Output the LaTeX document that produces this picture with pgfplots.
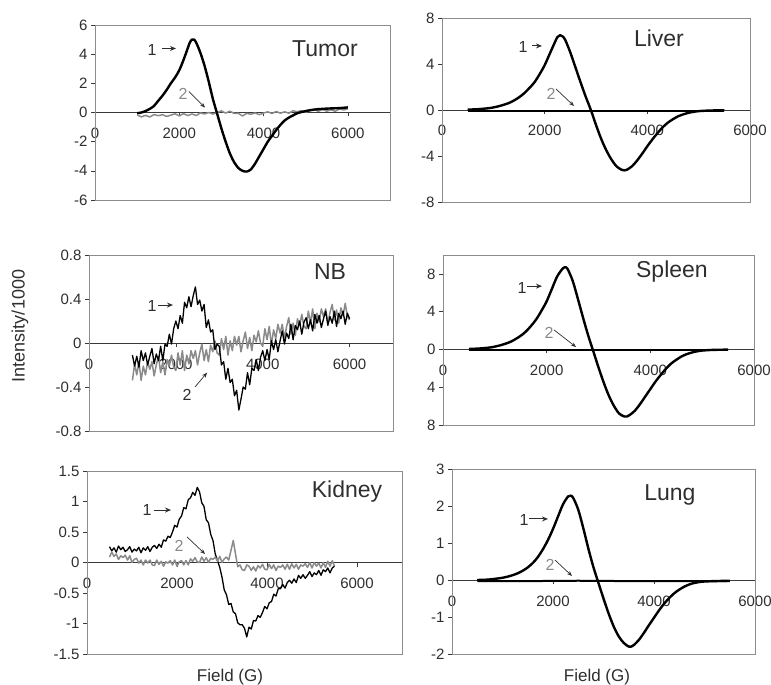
\documentclass[border=0pt]{standalone}
\usepackage{fontspec}
\setmainfont{Liberation Sans}
\usepackage{pgfplots}
\pgfplotsset{compat=1.18}
\usetikzlibrary{arrows.meta}

\definecolor{framegray}{HTML}{8C8C8C}
\definecolor{axisgray}{HTML}{3A3A3A}
\definecolor{tracetwo}{HTML}{8A8A8A}
\definecolor{txt}{HTML}{2E2E2E}

\newcommand{\tickfont}{\fontsize{15}{17}\selectfont}
\newcommand{\titlefont}{\fontsize{23}{26}\selectfont}
\newcommand{\numfont}{\fontsize{16}{18}\selectfont}

\pgfplotsset{
  panel/.style={
    scale only axis,
    anchor=south west,
    clip mode=individual,
    axis x line*=middle,
    axis y line*=left,
    hide obscured x ticks=false,
    hide obscured y ticks=false,
    xmin=0,
    xtick={0,2000,4000,6000},
    xticklabels={0,2000,4000,6000},
    tick align=outside,
    major tick length=4pt,
    tick style={axisgray, line width=0.6pt},
    x axis line style={axisgray, line width=0.9pt},
    y axis line style={axisgray, line width=0.9pt},
    xticklabel style={font=\tickfont, text=txt, yshift=-8pt},
    yticklabel style={font=\tickfont, text=txt},
  },
  one/.style={black, line width=2.4pt, line join=round},
  onenoisy/.style={black, line width=1.3pt, line join=round},
  two/.style={tracetwo, line width=1.5pt, line join=round},
}

\begin{document}
\begin{tikzpicture}
\path[use as bounding box] (0,0) rectangle (771pt,685pt);

% ---------- Tumor ----------
\begin{axis}[panel, at={(95pt,485pt)}, width=295pt, height=175pt,
  xmax=7000, ymin=-6, ymax=6,
  ytick={-6,-4,-2,0,2,4,6}, yticklabels={-6,-4,-2,0,2,4,6}]
\draw[framegray, line width=0.7pt] (rel axis cs:0,0) rectangle (rel axis cs:1,1);
\addplot[two] coordinates {
(1000,-0.17)(1100,-0.30)(1200,-0.20)(1300,-0.31)(1400,-0.14)(1500,-0.22)(1600,-0.15)(1700,-0.27)(1800,-0.18)(1900,-0.09)
(2000,-0.23)(2100,-0.08)(2200,-0.21)(2300,-0.10)(2400,-0.21)(2500,-0.03)(2600,-0.10)(2700,0.00)(2800,-0.11)(2900,0.01)
(3000,0.11)(3100,-0.04)(3200,0.09)(3300,-0.06)(3400,-0.05)(3500,-0.24)(3600,-0.06)(3700,-0.12)(3800,-0.03)(3900,-0.15)
(4000,-0.04)(4100,0.05)(4200,-0.07)(4300,0.07)(4400,-0.05)(4500,0.05)(4600,-0.05)(4700,0.12)(4800,0.05)(4900,0.13)
(5000,0.02)(5100,0.12)(5200,0.21)(5300,0.08)(5400,0.22)(5500,0.09)(5600,0.19)(5700,0.08)(5800,0.25)(5900,0.17)(6000,0.25)};
\addplot[one, smooth] coordinates {
(1000,-0.05)(1100,0.0)(1200,0.1)(1300,0.25)(1400,0.45)(1500,0.8)(1600,1.15)(1700,1.55)(1800,2.0)(1900,2.4)
(2000,2.9)(2100,3.6)(2200,4.4)(2250,4.8)(2300,5.0)(2350,5.0)(2400,4.8)(2500,4.1)(2600,3.2)(2700,2.1)(2800,0.9)
(2900,-0.1)(3000,-1.1)(3100,-2.0)(3200,-2.8)(3300,-3.4)(3400,-3.8)(3500,-4.0)(3600,-4.05)(3700,-3.9)(3800,-3.5)
(3900,-3.0)(4000,-2.5)(4100,-2.0)(4200,-1.6)(4300,-1.2)(4400,-0.85)(4500,-0.55)(4600,-0.35)(4700,-0.2)(4800,-0.05)
(5000,0.1)(5200,0.2)(5400,0.25)(5600,0.28)(5800,0.3)(6000,0.35)};
\node[font=\titlefont, text=txt] at (axis cs:5458,4.39) {Tumor};
\node[font=\numfont, text=txt] at (axis cs:1353,4.32) {1};
\draw[-{Stealth[length=6pt,width=5pt]}, line width=1pt, txt] (axis cs:1590,4.39) -- (axis cs:1922,4.39);
\node[font=\numfont, text=tracetwo] at (axis cs:2088,1.3) {2};
\draw[-{Stealth[length=5pt,width=4pt]}, line width=0.7pt, txt] (axis cs:2230,1.44) -- (axis cs:2610,0.34);
\end{axis}

% ---------- Liver ----------
\begin{axis}[panel, at={(442pt,483pt)}, width=308pt, height=184pt,
  xmax=6000, ymin=-8, ymax=8,
  ytick={-8,-4,0,4,8}, yticklabels={-8,-4,0,4,8}]
\draw[framegray, line width=0.7pt] (rel axis cs:0,0) rectangle (rel axis cs:1,1);
\addplot[black, line width=2pt] coordinates {
(500,-0.05)(1500,-0.05)(2500,-0.05)(3500,-0.05)(4500,-0.05)(5500,-0.05)};
\addplot[one, smooth] coordinates {
(500,0.03)(700,0.07)(900,0.15)(1000,0.22)(1100,0.32)(1200,0.45)(1300,0.6)(1400,0.82)(1500,1.1)(1600,1.45)
(1700,1.9)(1800,2.4)(1900,3.1)(2000,3.9)(2100,4.9)(2200,5.9)(2250,6.35)(2300,6.5)(2350,6.4)(2400,6.1)
(2500,5.0)(2600,3.7)(2700,2.4)(2800,1.15)(2900,0.0)(3000,-1.3)(3100,-2.5)(3200,-3.5)(3300,-4.3)(3400,-4.9)
(3500,-5.2)(3550,-5.25)(3600,-5.2)(3700,-4.9)(3800,-4.4)(3900,-3.8)(4000,-3.15)(4100,-2.55)(4200,-2.0)
(4300,-1.5)(4400,-1.1)(4500,-0.8)(4600,-0.55)(4700,-0.38)(4800,-0.25)(4900,-0.16)(5000,-0.1)(5200,-0.05)(5500,-0.02)};
\node[font=\titlefont, text=txt] at (axis cs:4227,6.26) {Liver};
\node[font=\numfont, text=txt] at (axis cs:1578,5.48) {1};
\draw[-{Stealth[length=6pt,width=5pt]}, line width=1pt, txt] (axis cs:1753,5.57) -- (axis cs:1948,5.57);
\node[font=\numfont, text=tracetwo] at (axis cs:2123,1.39) {2};
\draw[-{Stealth[length=5pt,width=4pt]}, line width=0.7pt, txt] (axis cs:2221,1.83) -- (axis cs:2571,0.35);
\end{axis}

% ---------- NB ----------
\begin{axis}[panel, at={(89pt,254pt)}, width=304pt, height=176pt,
  xmax=7000, ymin=-0.8, ymax=0.8,
  ytick={-0.8,-0.4,0,0.4,0.8}, yticklabels={-0.8,-0.4,0,0.4,0.8}]
\draw[framegray, line width=0.7pt] (rel axis cs:0,0) rectangle (rel axis cs:1,1);
\addplot[two] coordinates {
(1000,-0.34)(1050,-0.19)(1100,-0.29)(1150,-0.17)(1200,-0.34)(1250,-0.21)(1300,-0.29)(1350,-0.17)(1400,-0.24)(1450,-0.17)
(1500,-0.30)(1550,-0.20)(1600,-0.12)(1650,-0.27)(1700,-0.17)(1750,-0.29)(1800,-0.15)(1850,-0.21)(1900,-0.11)(1950,-0.22)
(2000,-0.25)(2050,-0.09)(2100,-0.20)(2150,-0.07)(2200,-0.25)(2250,-0.11)(2300,-0.19)(2350,-0.07)(2400,-0.14)(2450,-0.07)
(2500,-0.20)(2550,-0.09)(2600,-0.01)(2650,-0.16)(2700,-0.06)(2750,-0.17)(2800,-0.02)(2850,-0.08)(2900,0.02)(2950,-0.09)
(3000,-0.11)(3050,0.04)(3100,-0.06)(3150,0.06)(3200,-0.11)(3250,0.02)(3300,-0.07)(3350,0.06)(3400,-0.02)(3450,0.06)
(3500,-0.08)(3550,0.02)(3600,0.10)(3650,-0.05)(3700,0.05)(3750,-0.07)(3800,0.07)(3850,0.01)(3900,0.11)(3950,0.00)
(4000,-0.03)(4050,0.13)(4100,0.03)(4150,0.15)(4200,-0.02)(4250,0.12)(4300,0.04)(4350,0.17)(4400,0.09)(4450,0.17)
(4500,0.04)(4550,0.15)(4600,0.23)(4650,0.08)(4700,0.18)(4750,0.07)(4800,0.22)(4850,0.16)(4900,0.26)(4950,0.15)
(5000,0.13)(5050,0.29)(5100,0.18)(5150,0.31)(5200,0.13)(5250,0.27)(5300,0.19)(5350,0.31)(5400,0.24)(5450,0.31)
(5500,0.18)(5550,0.28)(5600,0.35)(5650,0.21)(5700,0.30)(5750,0.18)(5800,0.32)(5850,0.25)(5900,0.36)(5950,0.24)(6000,0.21)};
\addplot[onenoisy] coordinates {
(1000,-0.11)(1050,-0.21)(1100,-0.12)(1150,-0.22)(1200,-0.07)(1250,-0.16)(1300,-0.09)(1350,-0.20)(1400,-0.12)(1450,-0.05)
(1500,-0.19)(1550,-0.10)(1600,-0.16)(1650,-0.03)(1700,-0.16)(1750,-0.01)(1800,-0.03)(1850,0.08)(1900,-0.01)(1950,0.13)
(2000,0.20)(2050,0.13)(2100,0.25)(2150,0.18)(2200,0.37)(2250,0.32)(2300,0.42)(2350,0.33)(2400,0.43)(2450,0.51)
(2500,0.35)(2550,0.39)(2600,0.29)(2650,0.35)(2700,0.14)(2750,0.21)(2800,0.10)(2850,0.12)(2900,-0.06)(2950,-0.01)
(3000,-0.03)(3050,-0.20)(3100,-0.17)(3150,-0.33)(3200,-0.23)(3250,-0.36)(3300,-0.33)(3350,-0.48)(3400,-0.43)(3450,-0.61)
(3500,-0.51)(3550,-0.40)(3600,-0.42)(3650,-0.27)(3700,-0.38)(3750,-0.23)(3800,-0.25)(3850,-0.15)(3900,-0.25)(3950,-0.13)
(4000,-0.07)(4050,-0.16)(4100,-0.06)(4150,-0.15)(4200,0.02)(4250,-0.06)(4300,0.03)(4350,-0.08)(4400,0.02)(4450,0.11)
(4500,-0.01)(4550,0.09)(4600,0.04)(4650,0.17)(4700,0.03)(4750,0.16)(4800,0.12)(4850,0.20)(4900,0.08)(4950,0.19)
(5000,0.23)(5050,0.13)(5100,0.21)(5150,0.11)(5200,0.26)(5250,0.18)(5300,0.25)(5350,0.14)(5400,0.22)(5450,0.29)
(5500,0.16)(5550,0.24)(5600,0.18)(5650,0.29)(5700,0.15)(5750,0.27)(5800,0.22)(5850,0.29)(5900,0.17)(5950,0.27)(6000,0.22)};
\node[font=\titlefont, text=txt] at (axis cs:5550,0.645) {NB};
\node[font=\numfont, text=txt] at (axis cs:1451,0.336) {1};
\draw[-{Stealth[length=6pt,width=5pt]}, line width=1pt, txt] (axis cs:1589,0.345) -- (axis cs:1934,0.345);
\node[font=\numfont, text=txt] at (axis cs:2257,-0.47) {2};
\draw[-{Stealth[length=5pt,width=4pt]}, line width=0.7pt, txt] (axis cs:2441,-0.40) -- (axis cs:2718,-0.27);
\end{axis}

% ---------- Spleen ----------
\begin{axis}[panel, at={(443pt,260pt)}, width=311pt, height=170pt,
  xmax=6000, ymin=-8, ymax=10,
  ytick={-8,-4,0,4,8}, yticklabels={8,4,0,4,8}]
\draw[framegray, line width=0.7pt] (rel axis cs:0,0) rectangle (rel axis cs:1,1);
\addplot[black, line width=2pt] coordinates {
(500,-0.05)(1500,-0.05)(2500,-0.05)(3500,-0.05)(4500,-0.05)(5500,-0.05)};
\addplot[one, smooth] coordinates {
(500,0.05)(700,0.1)(900,0.2)(1000,0.3)(1100,0.43)(1200,0.6)(1300,0.8)(1400,1.1)(1500,1.45)(1600,1.9)
(1700,2.5)(1800,3.2)(1900,4.1)(2000,5.1)(2100,6.4)(2200,7.7)(2300,8.5)(2350,8.7)(2400,8.55)(2500,7.3)
(2600,5.4)(2700,3.4)(2800,1.5)(2900,-0.2)(3000,-1.9)(3100,-3.5)(3200,-4.9)(3300,-6.0)(3400,-6.8)(3500,-7.1)
(3550,-7.1)(3600,-6.95)(3700,-6.5)(3800,-5.8)(3900,-5.0)(4000,-4.2)(4100,-3.4)(4200,-2.7)(4300,-2.05)
(4400,-1.5)(4500,-1.1)(4600,-0.75)(4700,-0.5)(4800,-0.33)(4900,-0.2)(5000,-0.12)(5200,-0.05)(5500,-0.02)};
\node[font=\titlefont, text=txt] at (axis cs:4417,8.2) {Spleen};
\node[font=\numfont, text=txt] at (axis cs:1524,6.5) {1};
\draw[-{Stealth[length=6pt,width=5pt]}, line width=1pt, txt] (axis cs:1620,6.7) -- (axis cs:1910,6.7);
\node[font=\numfont, text=tracetwo] at (axis cs:2045,1.75) {2};
\draw[-{Stealth[length=5pt,width=4pt]}, line width=0.7pt, txt] (axis cs:2141,2.07) -- (axis cs:2566,0.26);
\end{axis}

% ---------- Kidney ----------
\begin{axis}[panel, at={(87pt,31pt)}, width=315pt, height=183pt,
  xmax=7000, ymin=-1.5, ymax=1.5,
  ytick={-1.5,-1,-0.5,0,0.5,1,1.5}, yticklabels={-1.5,-1,-0.5,0,0.5,1,1.5}]
\draw[framegray, line width=0.7pt] (rel axis cs:0,0) rectangle (rel axis cs:1,1);
\addplot[onenoisy] coordinates {
(500,0.26)(550,0.19)(600,0.24)(650,0.17)(700,0.27)(750,0.21)(800,0.25)(850,0.18)(900,0.21)(950,0.26)
(1000,0.17)(1050,0.22)(1100,0.19)(1150,0.25)(1200,0.16)(1250,0.24)(1300,0.20)(1350,0.26)(1400,0.18)(1450,0.25)
(1500,0.28)(1550,0.23)(1600,0.30)(1650,0.25)(1700,0.37)(1750,0.35)(1800,0.43)(1850,0.41)(1900,0.50)(1950,0.61)
(2000,0.58)(2050,0.71)(2100,0.76)(2150,0.90)(2200,0.88)(2250,1.03)(2300,1.06)(2350,1.15)(2400,1.10)(2450,1.23)
(2500,1.16)(2550,0.98)(2600,0.92)(2650,0.70)(2700,0.65)(2750,0.46)(2800,0.36)(2850,0.14)(2900,0.03)(2950,-0.08)
(3000,-0.24)(3050,-0.45)(3100,-0.53)(3150,-0.69)(3200,-0.67)(3250,-0.81)(3300,-0.84)(3350,-0.99)(3400,-1.02)(3450,-1.02)
(3500,-1.08)(3550,-1.22)(3600,-1.06)(3650,-1.09)(3700,-0.95)(3750,-0.96)(3800,-0.87)(3850,-0.90)(3900,-0.82)(3950,-0.72)
(4000,-0.76)(4050,-0.66)(4100,-0.64)(4150,-0.52)(4200,-0.55)(4250,-0.43)(4300,-0.43)(4350,-0.36)(4400,-0.42)(4450,-0.33)
(4500,-0.29)(4550,-0.34)(4600,-0.27)(4650,-0.33)(4700,-0.21)(4750,-0.26)(4800,-0.20)(4850,-0.26)(4900,-0.21)(4950,-0.15)
(5000,-0.23)(5050,-0.17)(5100,-0.20)(5150,-0.13)(5200,-0.21)(5250,-0.12)(5300,-0.15)(5350,-0.09)(5400,-0.17)(5450,-0.09)(5500,-0.06)};
\addplot[two] coordinates {
(500,0.09)(550,0.17)(600,0.10)(650,0.14)(700,0.05)(750,0.11)(800,0.08)(850,0.12)(900,0.04)(950,0.11)
(1000,0.00)(1050,0.05)(1100,0.07)(1150,-0.01)(1200,0.04)(1250,-0.04)(1300,0.04)(1350,-0.01)(1400,0.04)(1450,-0.04)
(1500,-0.05)(1550,0.04)(1600,-0.03)(1650,0.02)(1700,-0.06)(1750,0.01)(1800,-0.01)(1850,0.03)(1900,-0.04)(1950,0.04)
(2000,-0.06)(2050,0.01)(2100,0.03)(2150,-0.04)(2200,0.03)(2250,-0.04)(2300,0.06)(2350,0.02)(2400,0.08)(2450,0.01)
(2500,0.00)(2550,0.09)(2600,0.02)(2650,0.08)(2700,0.00)(2750,0.07)(2800,0.05)(2850,0.09)(2900,0.02)(2950,0.10)
(3000,0.00)(3050,0.06)(3100,0.09)(3150,0.04)(3200,0.20)(3250,0.36)(3300,0.14)(3350,-0.07)(3400,-0.04)(3450,-0.12)
(3500,-0.13)(3550,-0.04)(3600,-0.06)(3650,-0.13)(3700,-0.07)(3750,-0.14)(3800,-0.05)(3850,-0.09)(3900,-0.03)(3950,-0.11)
(4000,-0.12)(4050,-0.03)(4100,-0.10)(4150,-0.04)(4200,-0.13)(4250,-0.06)(4300,-0.08)(4350,-0.04)(4400,-0.11)(4450,-0.03)
(4500,-0.11)(4550,-0.02)(4600,-0.09)(4650,-0.03)(4700,-0.11)(4750,-0.04)(4800,-0.06)(4850,-0.02)(4900,-0.08)(4950,0.00)
(5000,-0.09)(5050,0.00)(5100,-0.06)(5150,-0.01)(5200,-0.09)(5250,0.00)(5300,-0.08)(5350,0.02)(5400,-0.06)(5450,0.03)(5500,-0.06)};
\node[font=\titlefont, text=txt] at (axis cs:5777,1.16) {Kidney};
\node[font=\numfont, text=txt] at (axis cs:1333,0.86) {1};
\draw[-{Stealth[length=6pt,width=5pt]}, line width=1pt, txt] (axis cs:1489,0.86) -- (axis cs:1867,0.86);
\node[font=\numfont, text=tracetwo] at (axis cs:2044,0.27) {2};
\draw[-{Stealth[length=5pt,width=4pt]}, line width=0.7pt, txt] (axis cs:2222,0.42) -- (axis cs:2622,0.14);
\end{axis}

% ---------- Lung ----------
\begin{axis}[panel, at={(452pt,31pt)}, width=303pt, height=185pt,
  xmax=6000, ymin=-2, ymax=3,
  ytick={-2,-1,0,1,2,3}, yticklabels={-2,-1,0,1,2,3}]
\draw[framegray, line width=0.7pt] (rel axis cs:0,0) rectangle (rel axis cs:1,1);
\addplot[black, line width=2pt] coordinates {
(500,-0.03)(1500,-0.03)(2500,-0.02)(3500,-0.03)(4500,-0.03)(5500,-0.03)};
\addplot[one, smooth] coordinates {
(500,0.0)(700,0.01)(900,0.04)(1000,0.06)(1100,0.09)(1200,0.13)(1300,0.18)(1400,0.25)(1500,0.34)(1600,0.46)
(1700,0.62)(1800,0.83)(1900,1.08)(2000,1.38)(2100,1.72)(2200,2.05)(2300,2.26)(2350,2.28)(2400,2.22)(2500,1.9)
(2600,1.4)(2700,0.85)(2800,0.35)(2900,-0.08)(3000,-0.5)(3100,-0.9)(3200,-1.25)(3300,-1.52)(3400,-1.7)(3500,-1.8)
(3550,-1.8)(3600,-1.76)(3700,-1.62)(3800,-1.43)(3900,-1.22)(4000,-1.02)(4100,-0.82)(4200,-0.64)(4300,-0.49)
(4400,-0.36)(4500,-0.26)(4600,-0.18)(4700,-0.12)(4800,-0.08)(5000,-0.04)(5500,-0.02)};
\node[font=\titlefont, text=txt] at (axis cs:4316,2.3) {Lung};
\node[font=\numfont, text=txt] at (axis cs:1426,1.62) {1};
\draw[-{Stealth[length=6pt,width=5pt]}, line width=1pt, txt] (axis cs:1525,1.65) -- (axis cs:1901,1.65);
\node[font=\numfont, text=tracetwo] at (axis cs:1940,0.4) {2};
\draw[-{Stealth[length=5pt,width=4pt]}, line width=0.7pt, txt] (axis cs:2039,0.54) -- (axis cs:2376,0.11);
\end{axis}

% ---------- shared labels ----------
\node[rotate=90, font=\fontsize{18}{20}\selectfont, text=txt] at (20pt,359pt) {Intensity/1000};
\node[font=\fontsize{17}{19}\selectfont, text=txt] at (230pt,8pt) {Field (G)};
\node[font=\fontsize{17}{19}\selectfont, text=txt] at (597pt,8pt) {Field (G)};
\end{tikzpicture}
\end{document}
